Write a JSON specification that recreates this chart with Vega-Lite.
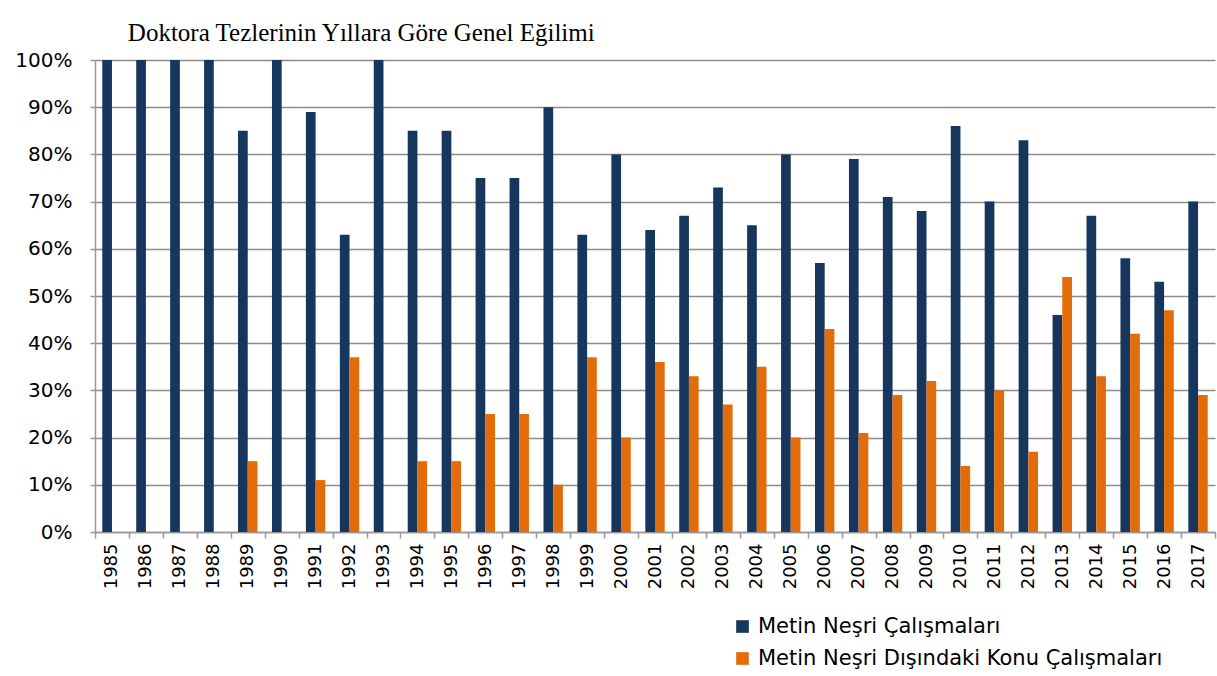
{
  "$schema": "https://vega.github.io/schema/vega-lite/v6.json",
  "autosize": "none",
  "width": 1120,
  "height": 472,
  "padding": {"left": 95, "top": 60, "right": 2, "bottom": 144},
  "background": "white",
  "title": {
    "text": "Doktora Tezlerinin Yıllara Göre Genel Eğilimi",
    "anchor": "start",
    "dx": 113,
    "font": "Liberation Serif",
    "fontSize": 25,
    "fontWeight": "normal",
    "color": "#000000",
    "offset": 4
  },
  "data": {
    "values": [
      {"year": "1985", "series": "Metin Neşri Çalışmaları", "value": 1.00},
      {"year": "1985", "series": "Metin Neşri Dışındaki Konu Çalışmaları", "value": 0.00},
      {"year": "1986", "series": "Metin Neşri Çalışmaları", "value": 1.00},
      {"year": "1986", "series": "Metin Neşri Dışındaki Konu Çalışmaları", "value": 0.00},
      {"year": "1987", "series": "Metin Neşri Çalışmaları", "value": 1.00},
      {"year": "1987", "series": "Metin Neşri Dışındaki Konu Çalışmaları", "value": 0.00},
      {"year": "1988", "series": "Metin Neşri Çalışmaları", "value": 1.00},
      {"year": "1988", "series": "Metin Neşri Dışındaki Konu Çalışmaları", "value": 0.00},
      {"year": "1989", "series": "Metin Neşri Çalışmaları", "value": 0.85},
      {"year": "1989", "series": "Metin Neşri Dışındaki Konu Çalışmaları", "value": 0.15},
      {"year": "1990", "series": "Metin Neşri Çalışmaları", "value": 1.00},
      {"year": "1990", "series": "Metin Neşri Dışındaki Konu Çalışmaları", "value": 0.00},
      {"year": "1991", "series": "Metin Neşri Çalışmaları", "value": 0.89},
      {"year": "1991", "series": "Metin Neşri Dışındaki Konu Çalışmaları", "value": 0.11},
      {"year": "1992", "series": "Metin Neşri Çalışmaları", "value": 0.63},
      {"year": "1992", "series": "Metin Neşri Dışındaki Konu Çalışmaları", "value": 0.37},
      {"year": "1993", "series": "Metin Neşri Çalışmaları", "value": 1.00},
      {"year": "1993", "series": "Metin Neşri Dışındaki Konu Çalışmaları", "value": 0.00},
      {"year": "1994", "series": "Metin Neşri Çalışmaları", "value": 0.85},
      {"year": "1994", "series": "Metin Neşri Dışındaki Konu Çalışmaları", "value": 0.15},
      {"year": "1995", "series": "Metin Neşri Çalışmaları", "value": 0.85},
      {"year": "1995", "series": "Metin Neşri Dışındaki Konu Çalışmaları", "value": 0.15},
      {"year": "1996", "series": "Metin Neşri Çalışmaları", "value": 0.75},
      {"year": "1996", "series": "Metin Neşri Dışındaki Konu Çalışmaları", "value": 0.25},
      {"year": "1997", "series": "Metin Neşri Çalışmaları", "value": 0.75},
      {"year": "1997", "series": "Metin Neşri Dışındaki Konu Çalışmaları", "value": 0.25},
      {"year": "1998", "series": "Metin Neşri Çalışmaları", "value": 0.90},
      {"year": "1998", "series": "Metin Neşri Dışındaki Konu Çalışmaları", "value": 0.10},
      {"year": "1999", "series": "Metin Neşri Çalışmaları", "value": 0.63},
      {"year": "1999", "series": "Metin Neşri Dışındaki Konu Çalışmaları", "value": 0.37},
      {"year": "2000", "series": "Metin Neşri Çalışmaları", "value": 0.80},
      {"year": "2000", "series": "Metin Neşri Dışındaki Konu Çalışmaları", "value": 0.20},
      {"year": "2001", "series": "Metin Neşri Çalışmaları", "value": 0.64},
      {"year": "2001", "series": "Metin Neşri Dışındaki Konu Çalışmaları", "value": 0.36},
      {"year": "2002", "series": "Metin Neşri Çalışmaları", "value": 0.67},
      {"year": "2002", "series": "Metin Neşri Dışındaki Konu Çalışmaları", "value": 0.33},
      {"year": "2003", "series": "Metin Neşri Çalışmaları", "value": 0.73},
      {"year": "2003", "series": "Metin Neşri Dışındaki Konu Çalışmaları", "value": 0.27},
      {"year": "2004", "series": "Metin Neşri Çalışmaları", "value": 0.65},
      {"year": "2004", "series": "Metin Neşri Dışındaki Konu Çalışmaları", "value": 0.35},
      {"year": "2005", "series": "Metin Neşri Çalışmaları", "value": 0.80},
      {"year": "2005", "series": "Metin Neşri Dışındaki Konu Çalışmaları", "value": 0.20},
      {"year": "2006", "series": "Metin Neşri Çalışmaları", "value": 0.57},
      {"year": "2006", "series": "Metin Neşri Dışındaki Konu Çalışmaları", "value": 0.43},
      {"year": "2007", "series": "Metin Neşri Çalışmaları", "value": 0.79},
      {"year": "2007", "series": "Metin Neşri Dışındaki Konu Çalışmaları", "value": 0.21},
      {"year": "2008", "series": "Metin Neşri Çalışmaları", "value": 0.71},
      {"year": "2008", "series": "Metin Neşri Dışındaki Konu Çalışmaları", "value": 0.29},
      {"year": "2009", "series": "Metin Neşri Çalışmaları", "value": 0.68},
      {"year": "2009", "series": "Metin Neşri Dışındaki Konu Çalışmaları", "value": 0.32},
      {"year": "2010", "series": "Metin Neşri Çalışmaları", "value": 0.86},
      {"year": "2010", "series": "Metin Neşri Dışındaki Konu Çalışmaları", "value": 0.14},
      {"year": "2011", "series": "Metin Neşri Çalışmaları", "value": 0.70},
      {"year": "2011", "series": "Metin Neşri Dışındaki Konu Çalışmaları", "value": 0.30},
      {"year": "2012", "series": "Metin Neşri Çalışmaları", "value": 0.83},
      {"year": "2012", "series": "Metin Neşri Dışındaki Konu Çalışmaları", "value": 0.17},
      {"year": "2013", "series": "Metin Neşri Çalışmaları", "value": 0.46},
      {"year": "2013", "series": "Metin Neşri Dışındaki Konu Çalışmaları", "value": 0.54},
      {"year": "2014", "series": "Metin Neşri Çalışmaları", "value": 0.67},
      {"year": "2014", "series": "Metin Neşri Dışındaki Konu Çalışmaları", "value": 0.33},
      {"year": "2015", "series": "Metin Neşri Çalışmaları", "value": 0.58},
      {"year": "2015", "series": "Metin Neşri Dışındaki Konu Çalışmaları", "value": 0.42},
      {"year": "2016", "series": "Metin Neşri Çalışmaları", "value": 0.53},
      {"year": "2016", "series": "Metin Neşri Dışındaki Konu Çalışmaları", "value": 0.47},
      {"year": "2017", "series": "Metin Neşri Çalışmaları", "value": 0.70},
      {"year": "2017", "series": "Metin Neşri Dışındaki Konu Çalışmaları", "value": 0.29}
    ]
  },
  "mark": {"type": "bar"},
  "encoding": {
    "x": {
      "field": "year",
      "type": "nominal",
      "scale": {"paddingInner": 0, "paddingOuter": 0},
      "axis": {
        "title": null,
        "labelAngle": -90,
        "labelAlign": "right",
        "labelBaseline": "middle",
        "labelFont": "DejaVu Sans",
        "labelFontSize": 18,
        "labelColor": "#000000",
        "labelPadding": 5,
        "tickBand": "extent",
        "tickColor": "#999999",
        "tickSize": 6,
        "tickWidth": 1.5,
        "domainColor": "#999999",
        "domainWidth": 1.5,
        "grid": false
      }
    },
    "xOffset": {
      "field": "series",
      "type": "nominal",
      "sort": ["Metin Neşri Çalışmaları", "Metin Neşri Dışındaki Konu Çalışmaları"],
      "scale": {"paddingOuter": 0.75, "paddingInner": 0}
    },
    "y": {
      "field": "value",
      "type": "quantitative",
      "scale": {"domain": [0, 1], "nice": false},
      "axis": {
        "title": null,
        "format": ".0%",
        "values": [0, 0.1, 0.2, 0.3, 0.4, 0.5, 0.6, 0.7, 0.8, 0.9, 1],
        "labelFont": "DejaVu Sans",
        "labelFontSize": 20,
        "labelColor": "#000000",
        "labelPadding": 18,
        "tickColor": "#999999",
        "tickSize": 5,
        "tickWidth": 1.5,
        "domainColor": "#999999",
        "domainWidth": 1.5,
        "gridColor": "#8c8c8c",
        "gridWidth": 1.5
      }
    },
    "color": {
      "field": "series",
      "type": "nominal",
      "scale": {
        "domain": ["Metin Neşri Çalışmaları", "Metin Neşri Dışındaki Konu Çalışmaları"],
        "range": ["#17365D", "#E36C0A"]
      },
      "legend": {
        "title": null,
        "orient": "none",
        "legendX": 637,
        "legendY": 556,
        "symbolType": "square",
        "symbolSize": 160,
        "symbolStrokeWidth": 0,
        "labelFont": "DejaVu Sans",
        "labelFontSize": 21,
        "labelColor": "#000000",
        "labelLimit": 600,
        "rowPadding": 10,
        "labelOffset": 5
      }
    }
  },
  "config": {
    "view": {"stroke": null}
  }
}
